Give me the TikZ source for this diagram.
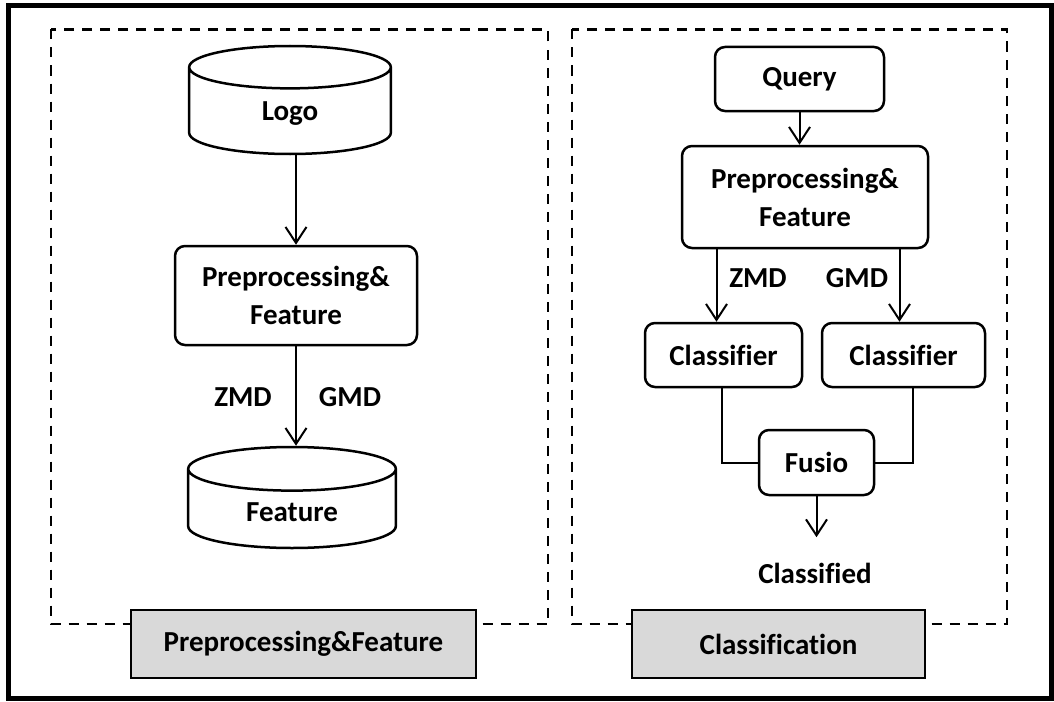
\documentclass[tikz,border=0pt]{standalone}
\usepackage{fontspec}
\setmainfont{Carlito}[Ligatures=NoCommon]
\usetikzlibrary{shapes.geometric,arrows.meta}
\definecolor{tabgray}{HTML}{D9D9D9}
\tikzset{
  boxed/.style={draw, line width=2.5pt, rounded corners=10pt, align=center},
  drum/.style={draw, line width=2.5pt, cylinder, shape border rotate=90, aspect=0.21, align=center, anchor=shape center},
  tab/.style={draw, line width=2.5pt, fill=tabgray},
  arr/.style={line width=2pt, -{Straight Barb[length=16pt,width=21pt]}},
  wire/.style={line width=2pt},
  dashbox/.style={line width=2.5pt, dash pattern=on 10pt off 8pt}
}
\begin{document}
\begin{tikzpicture}[x=1pt, y=-1pt, font=\fontsize{29}{38}\selectfont\bfseries]
  \useasboundingbox (0,0) rectangle (1054,701);
  \draw[line width=5pt] (8.5,6) rectangle (1051,698);
  \draw[dashbox] (51,29.5) rectangle (548,624);
  \draw[dashbox] (572,29.5) rectangle (1007,624);

  \node[drum, text width=195pt, minimum height=108pt] (logo) at (290,100) {Logo};
  \node[boxed, minimum width=242pt, minimum height=99pt] (prepL) at (296,295.5) {Preprocessing\&\\Feature};
  \node[drum, text width=201pt, minimum height=101pt] (feat) at (292,497.5) {Feature};
  \node (zmdL) at (243,397) {ZMD};
  \node (gmdL) at (350,397) {GMD};
  \node[tab, minimum width=345pt, minimum height=68pt] (tabL) at (303.5,644) {Preprocessing\&Feature};

  \node[boxed, minimum width=169pt, minimum height=64pt] (query) at (799.5,79) {Query};
  \node[boxed, minimum width=246pt, minimum height=102pt] (prepR) at (805,197) {Preprocessing\&\\Feature};
  \node[boxed, minimum width=157pt, minimum height=64pt] (clsL) at (723.5,355) {Classifier};
  \node[boxed, minimum width=163pt, minimum height=64pt] (clsR) at (903.5,355) {Classifier};
  \node[boxed, minimum width=115pt, minimum height=65pt] (fusio) at (816.5,462.5) {Fusio};
  \node (classified) at (815,573) {Classified};
  \node (zmdR) at (758,278) {ZMD};
  \node (gmdR) at (857,278) {GMD};
  \node[tab, minimum width=293pt, minimum height=68pt] (tabR) at (778.5,644) {Classification};

  \draw[arr] (prepL.north |- logo.south) -- (prepL.north);
  \draw[arr] (prepL.south) -- (prepL.south |- feat.north);
  \draw[arr] (query.south) -- (query.south |- prepR.north);
  \draw[arr] ([xshift=-7pt]clsL.north |- prepR.south) -- ([xshift=-7pt]clsL.north);
  \draw[arr] ([xshift=-4pt]clsR.north |- prepR.south) -- ([xshift=-4pt]clsR.north);
  \draw[wire] ([xshift=-2pt]clsL.south) |- (fusio.west);
  \draw[wire] ([xshift=9pt]clsR.south) |- (fusio.east);
  \draw[arr, shorten >=22pt] (fusio.south) -- (fusio.south |- classified.north);
\end{tikzpicture}
\end{document}
